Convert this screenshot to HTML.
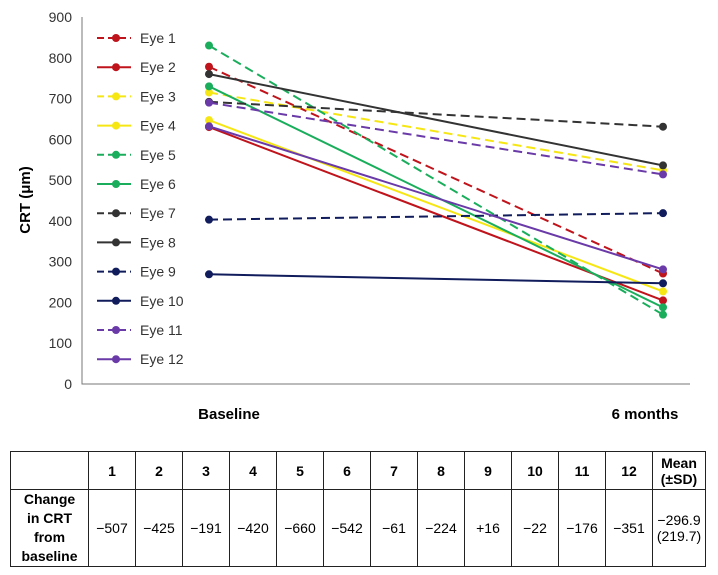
<!DOCTYPE html>
<html><head><meta charset="utf-8"><style>
body{margin:0;width:718px;height:575px;background:#fff;font-family:"Liberation Sans",sans-serif;overflow:hidden}
table{position:absolute;left:10px;top:451px;border-collapse:collapse;font-size:14px}
td{border:1.5px solid #222;text-align:center;padding:0}
tr.h td{height:37px;font-weight:bold}
tr.v td{height:76px}
</style></head><body>
<svg id="chart" width="718" height="440" style="position:absolute;left:0;top:0"></svg>
<table>
<tr class="h"><td style="width:77px"></td><td style="width:46px">1</td><td style="width:46px">2</td><td style="width:46px">3</td><td style="width:46px">4</td><td style="width:46px">5</td><td style="width:46px">6</td><td style="width:46px">7</td><td style="width:46px">8</td><td style="width:46px">9</td><td style="width:46px">10</td><td style="width:46px">11</td><td style="width:46px">12</td><td style="width:52px">Mean<br>(±SD)</td></tr>
<tr class="v"><td style="font-weight:bold;line-height:19px">Change<br>in CRT<br>from<br>baseline</td><td>−507</td><td>−425</td><td>−191</td><td>−420</td><td>−660</td><td>−542</td><td>−61</td><td>−224</td><td>+16</td><td>−22</td><td>−176</td><td>−351</td><td>−296.9<br>(219.7)</td></tr>
</table>
<script>
const eyes=["Eye 1","Eye 2","Eye 3","Eye 4","Eye 5","Eye 6","Eye 7","Eye 8","Eye 9","Eye 10","Eye 11","Eye 12"];
const baseline=[778,630,715,647,830,730,692,760,403,269,690,632];
const sixMonths=[271,205,524,227,170,188,631,536,419,247,514,281];
const colors=["#c0141c","#c0141c","#f5e614","#f5e614","#1aae5c","#1aae5c","#333","#333","#101c5c","#101c5c","#6a3aa8","#6a3aa8"];
const dashed=[1,0,1,0,1,0,1,0,1,0,1,0];
const yTicks=[0,100,200,300,400,500,600,700,800,900];
const NS="http://www.w3.org/2000/svg",svg=document.getElementById('chart');
const y=v=>384-v*(384-17)/900, xB=209, x6=663;
function mk(t,a,p){const e=document.createElementNS(NS,t);for(const k in a)e.setAttribute(k,a[k]);(p||svg).appendChild(e);return e;}
let ax=mk('path',{d:'M82,17V384H690',stroke:'#777',fill:'none','stroke-width':1});

yTicks.forEach(v=>{const t=mk('text',{x:72,y:y(v)+5,'text-anchor':'end','font-size':14,fill:'#333'});t.textContent=v;
});
let yt=mk('text',{x:0,y:0,transform:'translate(30,200) rotate(-90)','text-anchor':'middle','font-size':15,'font-weight':'bold'});yt.textContent='CRT (μm)';

[[xB+20,'Baseline'],[x6-18,'6 months']].forEach(([x,s])=>{const t=mk('text',{x:x,y:419,'text-anchor':'middle','font-size':15,'font-weight':'bold'});t.textContent=s;
});
eyes.forEach((n,i)=>{const g=mk('g',{});

const da=dashed[i]?'9,5':'none';
mk('line',{x1:xB,y1:y(baseline[i]),x2:x6,y2:y(sixMonths[i]),stroke:colors[i],'stroke-width':2,'stroke-dasharray':da},g);
mk('circle',{cx:xB,cy:y(baseline[i]),r:4,fill:colors[i]},g);
mk('circle',{cx:x6,cy:y(sixMonths[i]),r:4,fill:colors[i]},g);
const ly=38+i*29.2,lg=mk('g',{});

mk('line',{x1:97,y1:ly,x2:131,y2:ly,stroke:colors[i],'stroke-width':2,'stroke-dasharray':dashed[i]?'7,4':'none'},lg);
mk('circle',{cx:116,cy:ly,r:4,fill:colors[i]},lg);
const t=mk('text',{x:140,y:ly+5,'font-size':14,fill:'#333'},lg);t.textContent=n;});
</script>
</body></html>
